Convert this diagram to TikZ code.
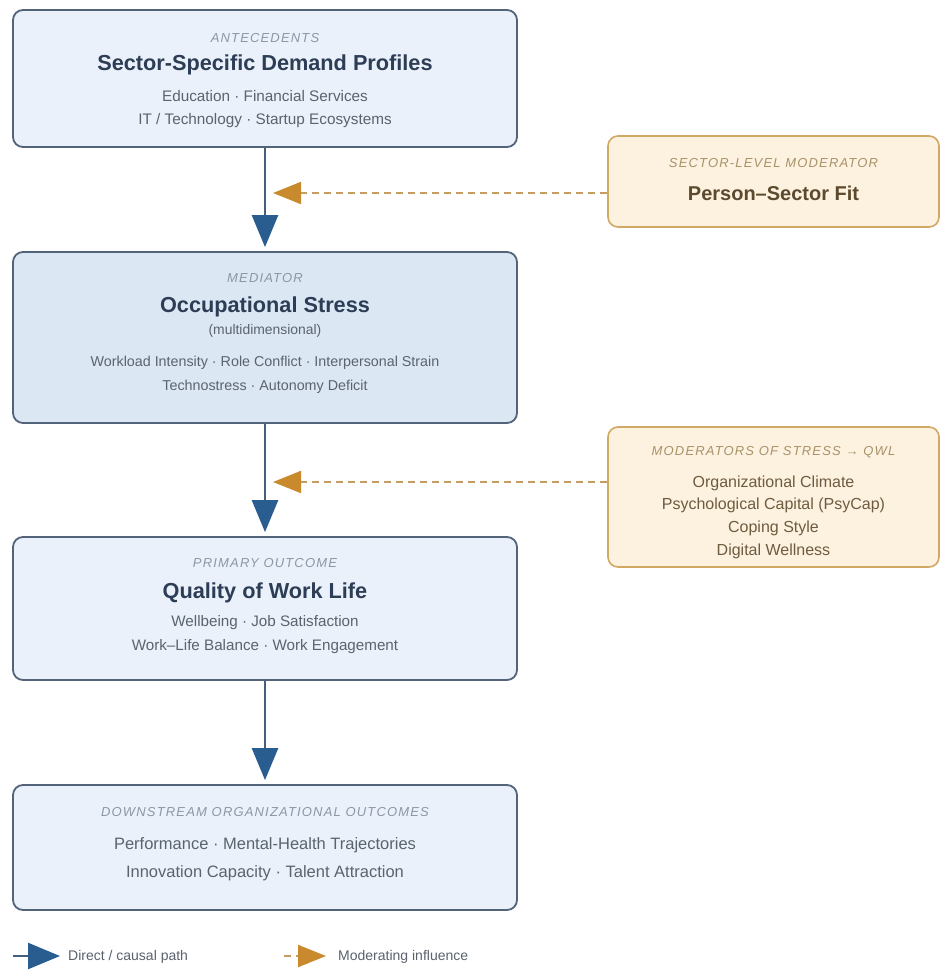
\documentclass[tikz,border=0pt]{standalone}
\usepackage{fontspec}
\setmainfont{Liberation Sans}
\usepackage{tikz}
\usetikzlibrary{arrows.meta,positioning,calc}
\usepackage{xcolor}

\definecolor{boxblue}{HTML}{EAF1FA}
\definecolor{boxbluedark}{HTML}{DCE7F4}
\definecolor{boxedge}{HTML}{53637A}
\definecolor{titleink}{HTML}{2C3D55}
\definecolor{itemink}{HTML}{5A636E}
\definecolor{tagink}{HTML}{8C97A5}
\definecolor{modfill}{HTML}{FDF1DF}
\definecolor{modedge}{HTML}{D2A865}
\definecolor{modtag}{HTML}{A8926A}
\definecolor{modtitle}{HTML}{5C4A2E}
\definecolor{moditem}{HTML}{6E5C40}
\definecolor{flowblue}{HTML}{2A5D8F}
\definecolor{flowline}{HTML}{45607F}
\definecolor{modhead}{HTML}{C98A2E}
\definecolor{modline}{HTML}{C79C62}

\newcommand{\tagfont}{\fontsize{13}{15}\selectfont\itshape\addfontfeature{LetterSpace=9}}

\begin{document}
\begin{tikzpicture}[x=1pt,y=-1pt,
  bluebox/.style={draw=boxedge, line width=1.8pt, rounded corners=10pt,
    fill=boxblue, minimum width=504pt},
  modbox/.style={draw=modedge, line width=1.6pt, rounded corners=10pt,
    fill=modfill, minimum width=331pt},
  tagtext/.style={text=tagink, font=\tagfont, inner sep=0pt},
  titletext/.style={text=titleink, font=\fontsize{21.7}{24}\selectfont\bfseries, inner sep=0pt},
  itemtext/.style={text=itemink, align=center, inner sep=0pt},
  flow/.style={draw=flowline, line width=2.5pt,
    -{Triangle[length=32pt,width=26pt,color=flowblue]}},
  modarrow/.style={draw=modline, line width=2pt, dash pattern=on 7pt off 5pt,
    -{Triangle[length=28pt,width=22pt,color=modhead]}},
  legendtext/.style={text=itemink, font=\fontsize{14}{16}\selectfont, inner sep=0pt, anchor=west}]

  % canvas
  \fill[white] (0,0) rectangle (941,972);
  \useasboundingbox (0,0) rectangle (941,972);

  % antecedents
  \node[bluebox, minimum height=137pt] (ante) at (265,78.5) {};
  \node[tagtext] (antetag) at (265,38) {ANTECEDENTS};
  \node[titletext] (antetitle) at (265,65) {Sector-Specific Demand Profiles};
  \node[itemtext, font=\fontsize{15.3}{23}\selectfont] (anteitems) at (265,109.5)
    {Education · Financial Services\\IT / Technology · Startup Ecosystems};

  % mediator
  \node[bluebox, fill=boxbluedark, minimum height=171pt] (med) at (265,337.5) {};
  \node[tagtext] (medtag) at (265,278) {MEDIATOR};
  \node[titletext] (medtitle) at (265,307) {Occupational Stress};
  \node[itemtext, font=\fontsize{13.9}{16}\selectfont] (medsub) at (265,331) {(multidimensional)};
  \node[itemtext, font=\fontsize{14.3}{24}\selectfont] (meditems) at (265,375)
    {Workload Intensity · Role Conflict · Interpersonal Strain\\Technostress · Autonomy Deficit};

  % primary outcome
  \node[bluebox, minimum height=143pt] (qwl) at (265,608.5) {};
  \node[tagtext] (qwltag) at (265,563) {PRIMARY OUTCOME};
  \node[titletext] (qwltitle) at (265,592.5) {Quality of Work Life};
  \node[itemtext, font=\fontsize{15.2}{24}\selectfont] (qwlitems) at (265,635)
    {Wellbeing · Job Satisfaction\\Work–Life Balance · Work Engagement};

  % downstream outcomes
  \node[bluebox, minimum height=125pt] (down) at (265,847.5) {};
  \node[tagtext] (downtag) at (265,812) {DOWNSTREAM ORGANIZATIONAL OUTCOMES};
  \node[itemtext, font=\fontsize{16.5}{28}\selectfont] (downitems) at (265,859)
    {Performance · Mental-Health Trajectories\\Innovation Capacity · Talent Attraction};

  % moderators
  \node[modbox, minimum height=91pt] (fit) at (773.5,181.5) {};
  \node[tagtext, text=modtag] (fittag) at (773.5,163) {SECTOR-LEVEL MODERATOR};
  \node[titletext, text=modtitle, font=\fontsize{20}{24}\selectfont\bfseries] (fittitle) at (773.5,193) {Person–Sector Fit};

  \node[modbox, minimum height=140pt] (qwlmod) at (773.5,497) {};
  \node[tagtext, text=modtag] (qwlmodtag) at (773.5,452) {MODERATORS OF STRESS → QWL};
  \node[itemtext, text=moditem, font=\fontsize{16}{22.7}\selectfont] (qwlmoditems) at (773.5,517)
    {Organizational Climate\\Psychological Capital (PsyCap)\\Coping Style\\Digital Wellness};

  % direct paths
  \draw[flow, shorten >=4pt] (ante.south) -- (med.north);
  \draw[flow, shorten >=4pt] (med.south) -- (qwl.north);
  \draw[flow, shorten >=4pt] (qwl.south) -- (down.north);

  % moderating paths
  \coordinate (fitpt) at (273,193);
  \coordinate (qwlpt) at (273,482);
  \draw[modarrow] (fit.west |- fitpt) -- (fitpt);
  \draw[modarrow] (qwlmod.west |- qwlpt) -- (qwlpt);

  % legend
  \coordinate (lgdirA) at (13,956);
  \coordinate (lgdirB) at (60,956);
  \draw[flow] (lgdirA) -- (lgdirB);
  \node[legendtext] (lgdirtext) at (68,957) {Direct / causal path};
  \coordinate (lgmodA) at (284,956);
  \coordinate (lgmodB) at (326,956);
  \draw[modarrow] (lgmodA) -- (lgmodB);
  \node[legendtext] (lgmodtext) at (338,957) {Moderating influence};
\end{tikzpicture}
\end{document}
